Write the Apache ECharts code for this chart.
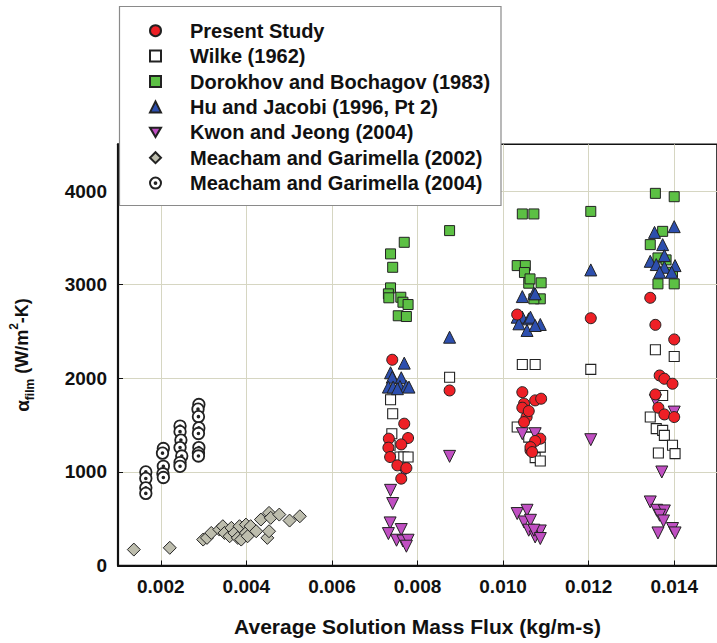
<!DOCTYPE html>
<html><head><meta charset="utf-8">
<script src="https://cdn.jsdelivr.net/npm/echarts@6/dist/echarts.min.js"></script>
<style>html,body{margin:0;padding:0;background:#fff}#c{width:717px;height:643px}</style>
</head><body><div id="c"></div>
<script>
const xTicks = [0.002, 0.004, 0.006, 0.008, 0.010, 0.012, 0.014];
const yTicks = [0, 1000, 2000, 3000, 4000];
const seriesNames = ['Present Study', 'Wilke (1962)', 'Dorokhov and Bochagov (1983)', 'Hu and Jacobi (1996, Pt 2)', 'Kwon and Jeong (2004)', 'Meacham and Garimella (2002)', 'Meacham and Garimella (2004)'];

const presentStudy = [
  [0.00741,2198],[0.00769,1515],[0.00733,1355],[0.00778,1362],[0.00762,1294],[0.00732,1259],[0.00736,1159],[0.00753,1070],[0.00774,1041],[0.00762,928],
  [0.00875,1870],
  [0.01033,2681],[0.01045,1852],[0.01049,1729],[0.01045,1686],[0.01055,1586],[0.0106,1650],[0.01049,1532],[0.01064,1230],[0.01075,1764],[0.01089,1782],[0.01087,1355],[0.01075,1330],[0.01064,1265],[0.01068,1212],
  [0.01205,2642],
  [0.01344,2860],[0.01356,2571],[0.014,2415],[0.01366,2030],[0.01377,1995],[0.01396,1942],[0.01356,1828],[0.01363,1686],[0.01377,1614],[0.014,1586]
];
const wilke = [
  [0.00737,1771],[0.00742,1622],[0.0074,1408],[0.00736,1284],[0.00759,1159],[0.00768,1159],[0.00778,1159],
  [0.00875,2012],
  [0.01045,2148],[0.01075,2148],[0.01033,1479],[0.01068,1372],[0.0106,1372],[0.01087,1265],[0.01075,1152],[0.01087,1116],
  [0.01205,2095],
  [0.01356,2305],[0.014,2233],[0.01373,1817],[0.01344,1586],[0.01358,1462],[0.01373,1444],[0.01377,1390],[0.01396,1284],[0.01402,1195],[0.01363,1202]
];
const dorokhov = [
  [0.00769,3453],[0.00737,3329],[0.00742,3186],[0.00737,2966],[0.00732,2902],[0.00733,2860],[0.00761,2866],[0.00766,2813],[0.00778,2788],[0.00755,2668],[0.00774,2660],
  [0.00875,3578],
  [0.01045,3756],[0.01072,3756],[0.01033,3204],[0.01052,3204],[0.0105,3130],[0.0106,3016],[0.01063,3062],[0.01089,3020],[0.01087,2849],[0.01072,2849],
  [0.01205,3783],
  [0.01356,3976],[0.014,3940],[0.01373,3570],[0.01344,3428],[0.01362,3286],[0.01381,3265],[0.01396,3133],[0.01362,3009],[0.014,3009]
];
const huJacobi = [
  [0.00769,2162],[0.00737,2059],[0.00741,2012],[0.00762,2006],[0.00732,1906],[0.00743,1906],[0.00759,1913],[0.00774,1913],[0.0078,1906],[0.00753,1889],
  [0.00875,2439],
  [0.01045,2873],[0.01072,2909],[0.01033,2653],[0.01045,2653],[0.0106,2635],[0.01037,2582],[0.01056,2511],[0.01075,2902],[0.01064,2653],[0.01087,2575],[0.01075,2564],
  [0.01205,3158],
  [0.014,3620],[0.01354,3559],[0.01373,3428],[0.01377,3311],[0.01344,3250],[0.01358,3215],[0.01377,3186],[0.01402,3204],[0.01366,3133],[0.01394,3133]
];
const kwonJeong = [
  [0.00769,999],[0.00737,803],[0.00742,662],[0.00736,455],[0.00732,341],[0.00762,384],[0.00751,270],[0.00766,262],[0.00778,270],[0.00774,206],
  [0.00875,1166],
  [0.01033,555],[0.01049,465],[0.0106,377],[0.01075,305],[0.01056,590],[0.01064,483],[0.01087,369],[0.01072,377],[0.01087,288],[0.01045,1408],[0.01075,1408],
  [0.01205,1344],
  [0.01356,1764],[0.014,1639],[0.01371,999],[0.01344,679],[0.01359,590],[0.01377,583],[0.01366,537],[0.01375,476],[0.01362,348],[0.01396,395],[0.01402,348]
];
const meacham2002 = [
  [0.00137,170],[0.00221,189],[0.00299,277],[0.00308,295],[0.00318,348],[0.00337,384],[0.00345,420],[0.00349,348],[0.00361,313],[0.00365,402],[0.00372,348],[0.0038,295],[0.00384,420],[0.00388,277],[0.00399,437],[0.00399,348],[0.00403,313],[0.0041,420],[0.00423,366],[0.00434,491],[0.00449,295],[0.00453,366],[0.00453,562],[0.00457,509],[0.00477,544],[0.00501,480],[0.00525,526]
];
const meacham2004 = [
  [0.00165,1000],[0.00165,930],[0.00165,830],[0.00165,770],
  [0.00206,1250],[0.00204,1200],[0.00206,1060],[0.00205,980],[0.00206,940],
  [0.00245,1490],[0.00245,1430],[0.00247,1340],[0.00245,1260],[0.00249,1170],[0.00245,1100],[0.00245,1060],
  [0.00289,1720],[0.00287,1670],[0.00288,1590],[0.00289,1470],[0.00288,1410],[0.00289,1260],[0.00288,1200],[0.00288,1170]
];

const FONT = '"Liberation Sans", Arial, Helvetica, sans-serif';
const dotCircle = 'path://M0,-10A10,10,0,1,1,0,10A10,10,0,1,1,0,-10ZM0,-1.6A1.6,1.6,0,1,1,0,1.6A1.6,1.6,0,1,1,0,-1.6Z';
const downTriangle = 'path://M-10,-8L10,-8L0,9Z';

function sc(name, data, symbol, size, color, z, bw) {
  return {
    type: 'scatter', name: name, data: data, symbol: symbol, symbolSize: size, z: z,
    itemStyle: { color: color, borderColor: '#222', borderWidth: bw || 1, opacity: 1 },
    emphasis: { disabled: true }
  };
}

const chart = echarts.init(document.getElementById('c'), null, { renderer: 'svg' });
chart.setOption({
  animation: false,
  backgroundColor: '#fff',
  grid: { left: 118, right: -4.4, top: 144.3, bottom: 77.5, show: true, borderColor: '#111', borderWidth: 1.6, backgroundColor: 'transparent' },
  xAxis: {
    type: 'value', min: 0.001, max: 0.015,
    axisLine: { show: true, lineStyle: { color: '#111', width: 2.2 } },
    axisTick: { show: true, inside: true, length: 5, lineStyle: { color: '#111', width: 1 }, customValues: xTicks },
    axisLabel: { customValues: xTicks, formatter: v => v.toFixed(3), color: '#111', fontFamily: FONT, fontWeight: 'bold', fontSize: 19, margin: 11 },
    splitLine: { show: true, lineStyle: { color: '#d6d6c2', width: 1 } },
    name: 'Average Solution Mass Flux (kg/m-s)', nameLocation: 'middle', nameGap: 50,
    nameTextStyle: { color: '#111', fontFamily: FONT, fontWeight: 'bold', fontSize: 21 }
  },
  yAxis: {
    type: 'value', min: 0, max: 4500,
    axisLine: { show: true, lineStyle: { color: '#111', width: 2.2 } },
    axisTick: { show: true, inside: true, length: 5, lineStyle: { color: '#111', width: 1 }, customValues: yTicks },
    axisLabel: { customValues: yTicks, formatter: v => String(Math.round(v)), color: '#111', fontFamily: FONT, fontWeight: 'bold', fontSize: 19, margin: 11 },
    splitLine: { show: true, lineStyle: { color: '#d6d6c2', width: 1 } }
  },
  legend: {
    data: seriesNames, orient: 'vertical', left: 149, top: 20.7, padding: 0,
    itemWidth: 11, itemHeight: 11, itemGap: 5.4, z: 30, selectedMode: false,
    textStyle: { color: '#111', fontFamily: FONT, fontWeight: 'bold', fontSize: 20, lineHeight: 20, padding: [0, 0, 0, 24] }
  },
  graphic: [
    { type: 'rect', z: 25, shape: { x: 119.5, y: 6.5, width: 381.5, height: 199 }, style: { fill: '#fff', stroke: '#8a8a8a', lineWidth: 1.2 } },
    { type: 'text', z: 30, x: 22, y: 355, rotation: Math.PI / 2,
      style: { text: '{a|α}{s|film}{b| (W/m}{p|2}{b|-K)}', align: 'center', verticalAlign: 'middle', fill: '#111',
        rich: {
          a: { fontFamily: FONT, fontWeight: 'bold', fontSize: 19, lineHeight: 28, fill: '#111' },
          b: { fontFamily: FONT, fontWeight: 'bold', fontSize: 18, lineHeight: 28, fill: '#111' },
          s: { fontFamily: FONT, fontWeight: 'bold', fontSize: 12, lineHeight: 11, verticalAlign: 'bottom', fill: '#111' },
          p: { fontFamily: FONT, fontWeight: 'bold', fontSize: 12, lineHeight: 13, verticalAlign: 'top', fill: '#111' }
        } } }
  ],
  series: [
    sc('Meacham and Garimella (2002)', meacham2002, 'diamond', 13, '#bdbdad', 2),
    sc('Meacham and Garimella (2004)', meacham2004, dotCircle, 11.5, '#ffffff', 2, 1.8),
    sc('Wilke (1962)', wilke, 'rect', 10, '#ffffff', 2, 1.1),
    sc('Dorokhov and Bochagov (1983)', dorokhov, 'rect', 10, '#5cc044', 2),
    sc('Hu and Jacobi (1996, Pt 2)', huJacobi, 'triangle', 12, '#2d4fae', 2),
    sc('Kwon and Jeong (2004)', kwonJeong, downTriangle, 12, '#c04fc2', 2),
    sc('Present Study', presentStudy, 'circle', 11, '#ee2026', 3)
  ]
});
</script>
</body></html>
